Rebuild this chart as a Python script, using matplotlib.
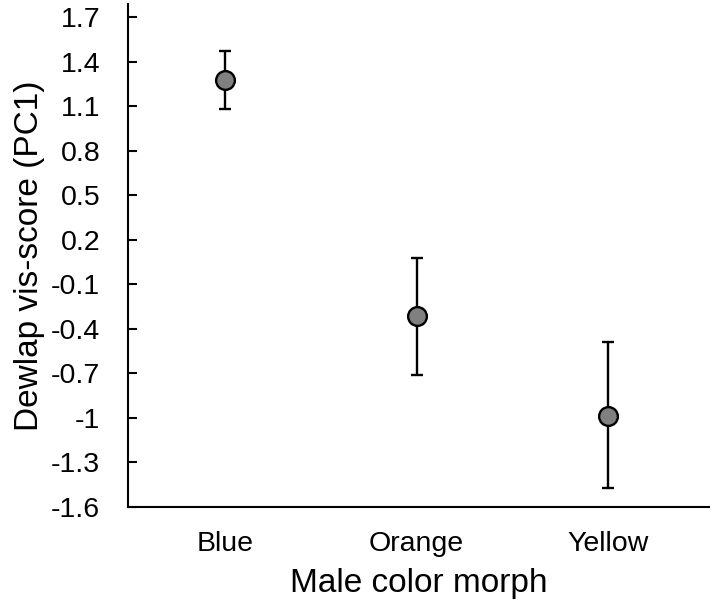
import matplotlib
matplotlib.use("Agg")
import matplotlib.pyplot as plt
import numpy as np

plt.rcParams["font.family"] = ["Liberation Sans", "DejaVu Sans"]

# Values.
MORPHS = ["Blue", "Orange", "Yellow"]
MEANS = [1.28, -0.31, -0.985]
UPPER = [1.47, 0.08, -0.49]
LOWER = [1.085, -0.71, -1.475]

Y_TICKS = [-1.6, -1.3, -1.0, -0.7, -0.4, -0.1, 0.2, 0.5, 0.8, 1.1, 1.4, 1.7]
Y_TICK_LABELS = ["-1.6", "-1.3", "-1", "-0.7", "-0.4", "-0.1",
                 "0.2", "0.5", "0.8", "1.1", "1.4", "1.7"]

fig = plt.figure(figsize=(7.1, 6.05), dpi=100)
ax = fig.add_axes([128 / 710, 98 / 605, 582 / 710, 503 / 605])

x = np.arange(len(MORPHS))
means = np.array(MEANS)
yerr = np.vstack([means - np.array(LOWER), np.array(UPPER) - means])

ax.errorbar(x, means, yerr=yerr, fmt="o", color="black", ecolor="black",
            elinewidth=1.7, capsize=4, capthick=1.7,
            markersize=13.5, markerfacecolor="#808080",
            markeredgecolor="black", markeredgewidth=1.7, zorder=3)

ax.set_xlim(-0.505, 2.53)
ax.set_ylim(-1.6, 1.79)

ax.set_yticks(Y_TICKS)
ax.set_yticklabels(Y_TICK_LABELS)
ax.set_xticks(x)
ax.set_xticklabels(MORPHS)

ax.tick_params(axis="y", direction="in", length=6.5, width=1.5, pad=20,
               labelsize=20.5)
ax.tick_params(axis="x", length=0, pad=17, labelsize=20.5)

for side in ["top", "right"]:
    ax.spines[side].set_visible(False)
for side in ["left", "bottom"]:
    ax.spines[side].set_linewidth(1.5)

ax.set_xlabel("Male color morph", fontsize=24, labelpad=8)
ax.set_ylabel("Dewlap vis-score (PC1)", fontsize=24, labelpad=4)

fig.savefig("out.png", dpi=100)
